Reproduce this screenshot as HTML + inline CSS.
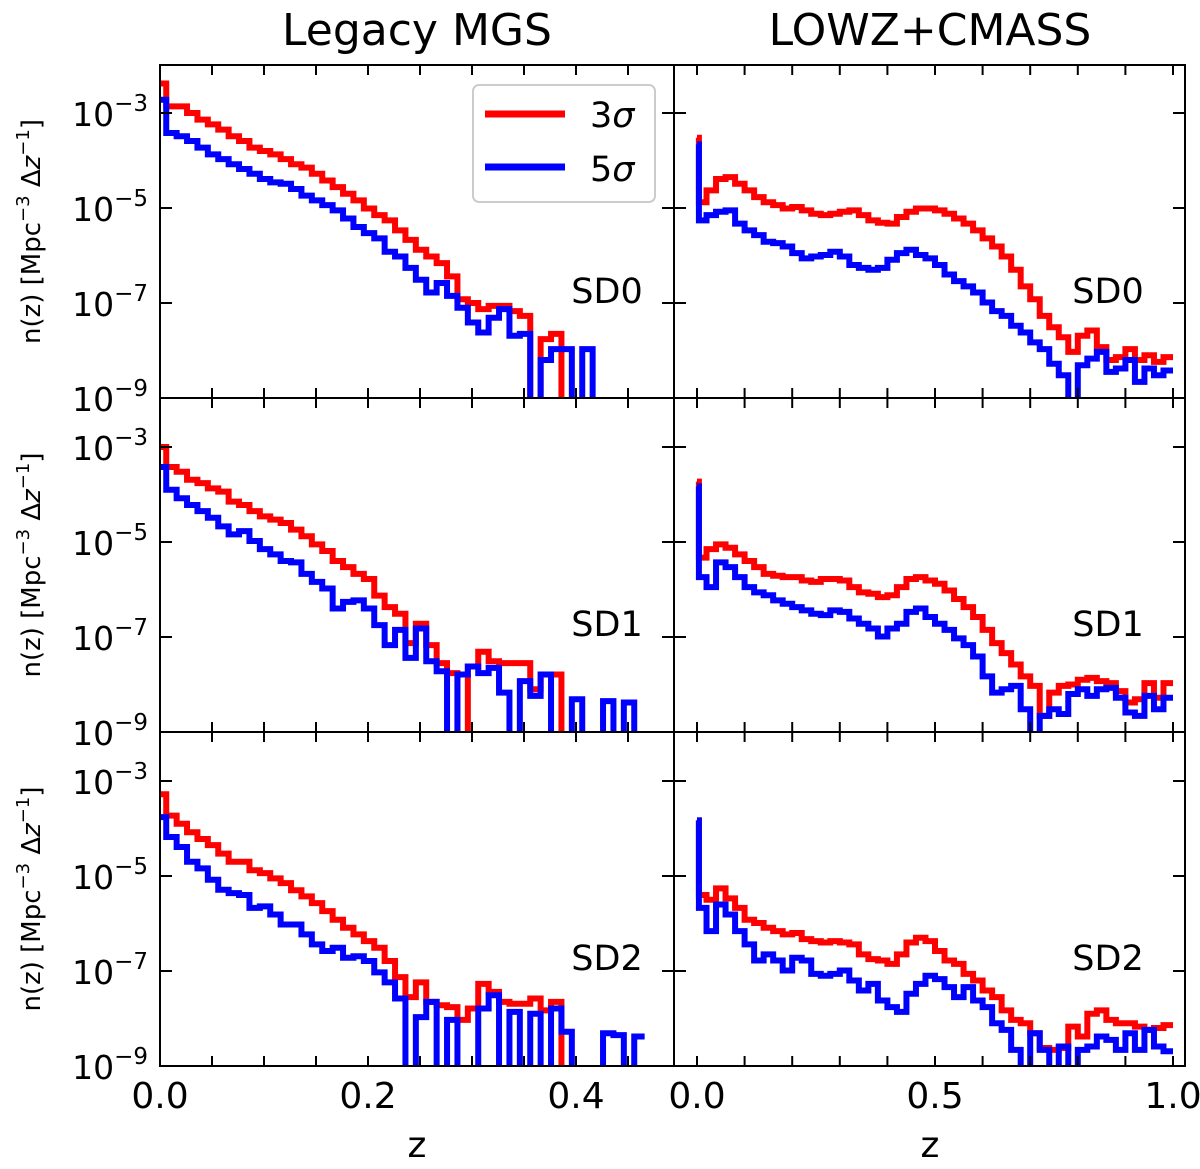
<!DOCTYPE html>
<html><head><meta charset="utf-8"><style>
body{margin:0;background:#fff;}
svg{display:block;font-family:"DejaVu Sans","Liberation Sans",sans-serif;}
</style></head><body>
<svg id="fig" width="1200" height="1169" viewBox="0 0 1200 1169"></svg>
<script>
// ---- data (log10 n(z)); -10 = empty bin ----
const sdLabels = ["SD0","SD1","SD2"];
const leftRed0 = [-2.38,-2.86,-2.86,-3.0,-3.14,-3.24,-3.35,-3.49,-3.59,-3.73,-3.8,-3.87,-3.97,-4.08,-4.15,-4.28,-4.42,-4.56,-4.7,-4.84,-5.01,-5.15,-5.26,-5.47,-5.67,-5.88,-6.02,-6.16,-6.44,-6.92,-7.0,-7.13,-7.06,-7.06,-7.17,-7.27,-10,-7.76,-7.65,-10,-10,-10,-10,-10,-10,-10,-10];
const leftBlue0 = [-2.72,-3.42,-3.49,-3.59,-3.73,-3.87,-3.97,-4.08,-4.18,-4.28,-4.39,-4.46,-4.49,-4.6,-4.74,-4.84,-4.94,-5.05,-5.22,-5.4,-5.53,-5.64,-5.92,-6.02,-6.26,-6.51,-6.78,-6.58,-6.85,-7.1,-7.41,-7.62,-7.31,-7.13,-7.69,-7.65,-10,-8.2,-7.97,-7.97,-10,-7.97,-10,-10,-10,-10,-10];
const leftRed1 = [-3.0,-3.42,-3.52,-3.69,-3.76,-3.87,-3.94,-4.15,-4.22,-4.35,-4.46,-4.53,-4.6,-4.74,-4.88,-5.05,-5.19,-5.4,-5.53,-5.67,-5.78,-6.13,-6.37,-6.51,-7.13,-6.72,-7.17,-7.55,-7.76,-10,-7.62,-7.31,-7.51,-7.55,-7.55,-7.55,-8.1,-7.79,-7.79,-10,-10,-10,-10,-10,-10,-10,-10];
const leftBlue1 = [-3.42,-3.9,-4.08,-4.22,-4.35,-4.49,-4.67,-4.84,-4.77,-4.98,-5.15,-5.26,-5.4,-5.43,-5.67,-5.84,-5.98,-6.4,-6.26,-6.23,-6.4,-6.75,-7.17,-6.85,-7.44,-6.82,-7.51,-7.72,-10,-7.79,-7.62,-7.76,-7.65,-8.17,-10,-7.93,-8.24,-7.79,-10,-10,-8.31,-10,-10,-8.35,-10,-8.38,-10];
const leftRed2 = [-3.28,-3.73,-3.9,-4.08,-4.22,-4.35,-4.53,-4.7,-4.7,-4.88,-4.94,-5.05,-5.15,-5.3,-5.43,-5.57,-5.74,-5.92,-6.09,-6.23,-6.37,-6.51,-6.79,-7.13,-7.55,-7.24,-7.65,-7.72,-7.76,-8.03,-7.79,-7.27,-7.44,-7.65,-7.69,-7.69,-7.58,-7.83,-7.65,-10,-10,-10,-10,-10,-10,-10,-10];
const leftBlue2 = [-3.76,-4.18,-4.39,-4.7,-4.84,-5.08,-5.29,-5.36,-5.4,-5.67,-5.64,-5.81,-6.02,-6.02,-6.23,-6.44,-6.58,-6.51,-6.72,-6.69,-6.79,-7.03,-7.24,-7.58,-10,-7.97,-7.65,-10,-8.03,-10,-10,-7.79,-7.51,-10,-7.86,-10,-7.9,-10,-7.79,-8.28,-10,-10,-10,-8.31,-8.35,-10,-8.38];
const rightSpikeRed = [-3.52,-3.73,-3.83];
const rightSpikeBlue = [-3.66,-3.83,-3.83];
const rightRed0 = [-4.88,-4.63,-4.39,-4.35,-4.49,-4.63,-4.77,-4.88,-4.94,-5.01,-4.98,-5.05,-5.12,-5.15,-5.12,-5.08,-5.05,-5.15,-5.26,-5.31,-5.33,-5.19,-5.08,-5.01,-5.01,-5.05,-5.12,-5.22,-5.33,-5.47,-5.64,-5.81,-6.02,-6.3,-6.65,-6.92,-7.27,-7.51,-7.72,-8.03,-7.69,-7.58,-7.93,-8.2,-8.14,-7.97,-8.2,-8.1,-8.24,-8.14];
const rightBlue0 = [-5.26,-5.15,-5.08,-5.05,-5.33,-5.47,-5.57,-5.71,-5.74,-5.81,-5.95,-6.06,-6.02,-5.99,-5.92,-6.02,-6.2,-6.26,-6.3,-6.26,-6.09,-5.95,-5.88,-5.99,-6.06,-6.2,-6.4,-6.54,-6.65,-6.78,-6.99,-7.17,-7.27,-7.48,-7.62,-7.83,-7.97,-8.28,-8.52,-10,-8.31,-8.17,-8.03,-8.45,-8.38,-8.2,-8.66,-8.38,-8.52,-8.42];
const rightRed1 = [-5.33,-5.15,-5.05,-5.12,-5.26,-5.4,-5.53,-5.67,-5.71,-5.74,-5.74,-5.81,-5.84,-5.78,-5.78,-5.81,-5.95,-6.06,-6.09,-6.16,-6.12,-5.95,-5.78,-5.74,-5.81,-5.88,-6.02,-6.2,-6.37,-6.58,-6.85,-7.13,-7.34,-7.58,-7.83,-8.03,-8.66,-8.17,-8.03,-8.0,-7.9,-7.86,-7.93,-7.97,-8.14,-8.38,-8.31,-7.97,-8.28,-7.97];
const rightBlue1 = [-5.74,-5.95,-5.43,-5.53,-5.74,-5.95,-6.06,-6.12,-6.23,-6.3,-6.37,-6.44,-6.51,-6.54,-6.44,-6.47,-6.61,-6.72,-6.82,-6.99,-6.82,-6.72,-6.47,-6.4,-6.58,-6.72,-6.85,-7.03,-7.17,-7.41,-7.83,-8.17,-8.1,-8.03,-8.52,-10,-8.66,-8.52,-8.62,-8.2,-8.1,-8.24,-8.1,-8.07,-8.28,-8.59,-8.66,-8.24,-8.52,-8.28];
const rightRed2 = [-5.4,-5.5,-5.26,-5.47,-5.67,-5.92,-5.99,-6.09,-6.16,-6.23,-6.2,-6.33,-6.37,-6.4,-6.37,-6.4,-6.44,-6.65,-6.75,-6.78,-6.85,-6.65,-6.4,-6.3,-6.37,-6.58,-6.78,-6.85,-7.06,-7.2,-7.41,-7.55,-7.83,-8.03,-8.1,-8.31,-8.62,-8.66,-8.62,-8.17,-8.38,-7.9,-7.83,-8.03,-8.1,-8.1,-8.17,-8.24,-8.2,-8.14];
const rightBlue2 = [-5.67,-6.16,-5.6,-5.81,-6.16,-6.44,-6.78,-6.65,-6.78,-6.99,-6.72,-6.78,-7.06,-7.1,-7.06,-6.99,-7.2,-7.41,-7.27,-7.62,-7.76,-7.86,-7.48,-7.27,-7.1,-7.17,-7.34,-7.55,-7.34,-7.62,-7.76,-8.1,-8.24,-8.66,-10,-8.31,-8.66,-10,-8.59,-10,-8.66,-8.59,-8.38,-8.45,-8.66,-8.31,-8.66,-8.24,-8.59,-8.69];
const leftXTicks = ["0.0","0.2","0.4"];
const rightXTicks = ["0.0","0.5","1.0"];
const yTickExps = [-3,-5,-7,-9];

const leftRed=[leftRed0,leftRed1,leftRed2], leftBlue=[leftBlue0,leftBlue1,leftBlue2];
const rightRed=[rightRed0,rightRed1,rightRed2], rightBlue=[rightBlue0,rightBlue1,rightBlue2];

const NS="http://www.w3.org/2000/svg";
const svg=document.getElementById('fig');
function mk(tag,attrs,parent){const e=document.createElementNS(NS,tag);for(const k in attrs)e.setAttribute(k,attrs[k]);(parent||svg).appendChild(e);return e;}

const rowTop=[65,398,732], rowBot=[398,732,1066];
const colL=[160,674], colR=[674,1185];
function xLeft(z){return 160+z*1040;}
function xRight(z){return 697+z*476;}
function yScale(L,r){return rowBot[r]-(L+9)*47.5;}

function stepPath(edges,vals,xf,r){
  let d="";const base=rowBot[r]+20;
  for(let i=0;i<vals.length;i++){
    const y=vals[i]<=-9.9?base:yScale(vals[i],r);
    const x0=xf(edges[i]),x1=xf(edges[i+1]);
    d+=(i===0?"M"+x0+","+y:"L"+x0+","+y)+"L"+x1+","+y;
  }
  return d;
}
const defs=mk('defs',{});
for(let r=0;r<3;r++)for(let c=0;c<2;c++){
  const cp=mk('clipPath',{id:'cp'+r+c},defs);
  mk('rect',{x:colL[c],y:rowTop[r],width:colR[c]-colL[c],height:rowBot[r]-rowTop[r]},cp);
}
const LW=6;
for(let r=0;r<3;r++){
  const gL=mk('g',{'clip-path':'url(#cp'+r+'0)'});
  
  
  const eL=[0];for(let k=1;k<=leftRed[r].length;k++)eL.push(0.01*k-0.004);
  const pr=mk('path',{d:stepPath(eL,leftRed[r],xLeft,r),fill:'none',stroke:'#ff0000','stroke-width':LW},gL);
  
  
  const eLB=[0];for(let k=1;k<=leftBlue[r].length;k++)eLB.push(0.01*k-0.004);
  const pb=mk('path',{d:stepPath(eLB,leftBlue[r],xLeft,r),fill:'none',stroke:'#0000ff','stroke-width':LW},gL);
  
  
  const gR=mk('g',{'clip-path':'url(#cp'+r+'1)'});
  
  
  const eR=[0,0.004];for(let k=1;k<=rightRed[r].length;k++)eR.push(0.02*k);
  const rr=mk('path',{d:stepPath(eR,[rightSpikeRed[r]].concat(rightRed[r]),xRight,r),fill:'none',stroke:'#ff0000','stroke-width':LW},gR);
  
  
  const rb=mk('path',{d:stepPath(eR,[rightSpikeBlue[r]].concat(rightBlue[r]),xRight,r),fill:'none',stroke:'#0000ff','stroke-width':LW},gR);
  
  
}

for(let r=0;r<3;r++)for(let c=0;c<2;c++){
  const x0=colL[c],x1=colR[c],y0=rowTop[r],y1=rowBot[r];
  const g=mk('g',{stroke:'#000','stroke-width':2});
  
  
  mk('rect',{x:x0,y:y0,width:x1-x0,height:y1-y0,fill:'none'},g);
  yTickExps.concat([-1]).forEach(e=>{const y=yScale(e,r);if(y>y0&&y<y1){mk('line',{x1:x0,x2:x0+12,y1:y,y2:y},g);mk('line',{x1:x1,x2:x1-12,y1:y,y2:y},g);}});
  const step=c===0?0.05:0.1, n=c===0?9:10, xf=c===0?xLeft:xRight;
  for(let k=0;k<=n;k++){const x=xf(k*step);if(x<=x0+1||x>=x1-1)continue;mk('line',{x1:x,x2:x,y1:y1,y2:y1-10},g);mk('line',{x1:x,x2:x,y1:y0,y2:y0+10},g);}
}

for(let r=0;r<3;r++){
  yTickExps.forEach(e=>{
    const y=yScale(e,r);
    const t=mk('text',{x:148,y:y+13,'text-anchor':'end','font-size':33,fill:'#000'});
    
    
    const a=mk('tspan',{},t);a.textContent='10';
    const b=mk('tspan',{dy:-15,'font-size':23},t);b.textContent='−'+Math.abs(e);
  });
  const yl=mk('text',{transform:'translate(40,'+((rowTop[r]+rowBot[r])/2)+') rotate(-90)','text-anchor':'middle','font-size':26,fill:'#000'});
  
  
  yl.innerHTML='n(z) [Mpc<tspan dy="-11" font-size="18">−3</tspan><tspan dy="11"> Δ</tspan><tspan font-style="italic">z</tspan><tspan dy="-11" font-size="18">−1</tspan><tspan dy="11">]</tspan>';
  [[607,'sd-label-left'],[1108,'sd-label-right']].forEach(([x,n])=>{
    const s=mk('text',{x:x,y:rowTop[r]+238,'text-anchor':'middle','font-size':35,fill:'#000'});
    
    
    s.textContent=sdLabels[r];
  });
}
leftXTicks.forEach(l=>{const t=mk('text',{x:xLeft(parseFloat(l)),y:1108,'text-anchor':'middle','font-size':36});
  
  
  t.textContent=l;});
rightXTicks.forEach(l=>{const t=mk('text',{x:xRight(parseFloat(l)),y:1108,'text-anchor':'middle','font-size':36});
  
  
  t.textContent=l;});
[[417,'x-axis-title-left'],[930,'x-axis-title-right']].forEach(([x,n])=>{const t=mk('text',{x:x,y:1157,'text-anchor':'middle','font-size':36});
  
  
  t.textContent='z';});
[[417,'Legacy MGS','title-legacy-mgs'],[930,'LOWZ+CMASS','title-lowz-cmass']].forEach(([x,s,n])=>{const t=mk('text',{x:x,y:45,'text-anchor':'middle','font-size':44});
  
  
  t.textContent=s;});

const lg=mk('g',{});


mk('rect',{x:473,y:85,width:182,height:117,rx:6,fill:'#fff','fill-opacity':0.85,stroke:'#ccc','stroke-width':2},lg);
mk('line',{x1:485,x2:565,y1:114,y2:114,stroke:'#ff0000','stroke-width':7},lg);
mk('line',{x1:485,x2:565,y1:167,y2:167,stroke:'#0000ff','stroke-width':7},lg);
const l1=mk('text',{x:590,y:127,'font-size':35},lg);


l1.innerHTML='3<tspan font-style="italic">σ</tspan>';
const l2=mk('text',{x:590,y:181,'font-size':35},lg);


l2.innerHTML='5<tspan font-style="italic">σ</tspan>';
</script>
</body></html>
